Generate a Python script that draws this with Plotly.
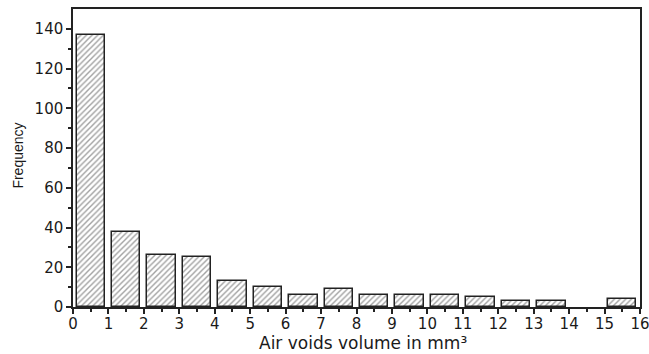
import plotly.graph_objects as go

bin_centers = [i + 0.5 for i in range(16)]
frequency = [137, 38, 26, 25, 13, 10, 6, 9, 6, 6, 6, 5, 3, 3, 0, 4]
x_ticks = list(range(0, 17))
y_ticks = [0, 20, 40, 60, 80, 100, 120, 140]

fig = go.Figure()
fig.add_trace(go.Bar(
    x=bin_centers, y=frequency, width=0.8,
    marker=dict(color="white",
                line=dict(color="#222", width=[1.5 if v > 0 else 0 for v in frequency]),
                pattern=dict(shape="/", fgcolor="#444", bgcolor="white", size=4, solidity=0.35)),
    hoverinfo="skip",
))

tick_font = "DejaVu Sans, Verdana, sans-serif"
fig.update_layout(
    width=649, height=354,
    margin=dict(l=73, r=9, t=9, b=47),
    plot_bgcolor="white", paper_bgcolor="white",
    showlegend=False, bargap=0,
    font=dict(family=tick_font, size=15, color="#1a1a1a"),
    xaxis=dict(range=[0, 16], tickvals=x_ticks, ticktext=[str(v) for v in x_ticks],
               ticks="outside", ticklen=5, tickwidth=1.5, tickcolor="#222",
               minor=dict(tickvals=[i + 0.5 for i in range(16)], ticks="outside", ticklen=3, tickcolor="#222", tickwidth=1.5),
               showline=True, linecolor="#222", linewidth=1.5, mirror=True, showgrid=False, zeroline=False,
               automargin=False, ticklabeloverflow="allow", ticklabelstandoff=-3,
               tickfont=dict(size=15)),
    yaxis=dict(range=[0, 150], tickvals=y_ticks, ticktext=[str(v) for v in y_ticks],
               ticks="outside", ticklen=5, tickwidth=1.5, tickcolor="#222",
               minor=dict(tickvals=list(range(10, 150, 20)), ticks="outside", ticklen=3, tickcolor="#222", tickwidth=1.5),
               showline=True, linecolor="#222", linewidth=1.5, mirror=True, showgrid=False, zeroline=False,
               automargin=False,
               tickfont=dict(size=15)),
    annotations=[
        dict(text="Air voids volume in mm³", xref="paper", yref="paper", x=0.512, y=-0.12,
             xanchor="center", yanchor="middle", showarrow=False, font=dict(size=17)),
        dict(text="Frequency", xref="paper", yref="paper", x=-0.097, y=0.508, textangle=-90,
             xanchor="center", yanchor="middle", showarrow=False,
             font=dict(family="Liberation Sans, Arial, sans-serif", size=14)),
    ],
)
fig.write_html("out.html", config={"displayModeBar": False})

with open("out.html", encoding="utf-8") as f:
    html = f.read()
html = html.replace("<body>", '<body style="margin:0;padding:0;overflow:hidden">', 1)
with open("out.html", "w", encoding="utf-8") as f:
    f.write(html)
